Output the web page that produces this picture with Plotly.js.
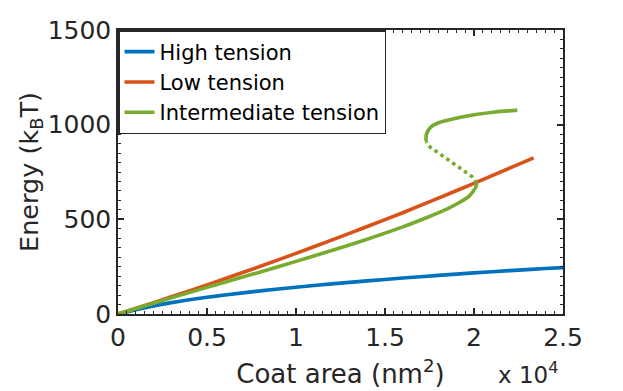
<!DOCTYPE html>
<html>
<head>
<meta charset="utf-8">
<script src="https://cdn.plot.ly/plotly-3.0.1.min.js"></script>
<style>
  html, body { margin: 0; padding: 0; background: #fff; }
  #graph { width: 623px; height: 391px; }
</style>
</head>
<body>
<div id="graph"></div>
<script>
// *********************************************************************************************
// DATA

const HIGH_X = [0, 1000, 2000, 3000, 4000, 5000, 6000, 8000, 10000, 12000, 14000, 16000, 18000, 20000, 22000, 24000, 25000];
const HIGH_Y = [0, 23, 43, 60, 75, 88, 100, 122, 141, 159, 175, 190, 204, 217, 229, 240, 245];

const LOW_X = [0, 2000, 4000, 6000, 8000, 10000, 12000, 14000, 16000, 18000, 20000, 22000, 23350];
const LOW_Y = [0, 60, 122, 186, 252, 320, 390, 462, 535, 612, 690, 770, 825];

// intermediate tension: stable lower branch, unstable (dotted) branch, stable upper branch
const MID_LOW_X = [0, 2000, 4000, 6000, 8000, 10000, 12000, 14000, 16000, 17500, 18500, 19200, 19700, 19950, 20100, 20150];
const MID_LOW_Y = [0, 57, 113, 168, 222, 278, 335, 395, 460, 515, 555, 590, 620, 648, 670, 690];

const MID_UNSTABLE_X = [20150, 19900, 18700, 17550, 17300];
const MID_UNSTABLE_Y = [690, 725, 805, 880, 912];

const MID_UP_X = [17300, 17330, 17550, 18000, 18800, 20000, 21200, 22430];
const MID_UP_Y = [912, 950, 985, 1010, 1030, 1052, 1067, 1077];

const X_TICKS = [0, 5000, 10000, 15000, 20000, 25000];
const X_TICK_TEXT = ['0', '0.5', '1', '1.5', '2', '2.5'];
const Y_TICKS = [0, 500, 1000, 1500];

const BLUE = '#0072BD';
const RED = '#D95319';
const GREEN = '#77AC30';
const AXIS = '#262626';
const FONT = 'DejaVu Sans, Liberation Sans, Arial, sans-serif';

// *********************************************************************************************
// TRACES

const LW = 3.6;

let data = [
    { name: 'High tension', type: 'scatter', mode: 'lines', x: HIGH_X, y: HIGH_Y,
      line: { color: BLUE, width: LW, shape: 'spline', smoothing: 0.6 } },
    { name: 'Low tension', type: 'scatter', mode: 'lines', x: LOW_X, y: LOW_Y,
      line: { color: RED, width: LW, shape: 'spline', smoothing: 0.6 } },
    { name: 'Intermediate tension', type: 'scatter', mode: 'lines', x: MID_LOW_X, y: MID_LOW_Y,
      line: { color: GREEN, width: LW, shape: 'spline', smoothing: 0.6 }, legendgroup: 'mid' },
    { name: 'Intermediate tension', type: 'scatter', mode: 'lines', x: MID_UNSTABLE_X, y: MID_UNSTABLE_Y,
      line: { color: GREEN, width: LW, dash: 'dot' }, legendgroup: 'mid', showlegend: false },
    { name: 'Intermediate tension', type: 'scatter', mode: 'lines', x: MID_UP_X, y: MID_UP_Y,
      line: { color: GREEN, width: LW, shape: 'spline', smoothing: 0.6 }, legendgroup: 'mid', showlegend: false }
];

// *********************************************************************************************
// LAYOUT

const axisCommon = {
    showline: true, linecolor: AXIS, linewidth: 1.5, mirror: 'ticks',
    ticks: 'inside', ticklen: 6, tickwidth: 1.5, tickcolor: AXIS,
    showgrid: false, zeroline: false,
    tickfont: { family: FONT, size: 25, color: AXIS }
};

let layout = {
    width: 623, height: 391,
    margin: { t: 30, r: 60, b: 77, l: 118 },
    paper_bgcolor: '#fff', plot_bgcolor: '#fff',
    font: { family: FONT, color: AXIS },
    showlegend: true,
    legend: {
        x: 0, y: 1, xanchor: 'left', yanchor: 'top',
        bgcolor: '#fff', bordercolor: AXIS, borderwidth: 1.5,
        font: { family: FONT, size: 21, color: '#000' },
        itemwidth: 30, tracegroupgap: 0
    },
    xaxis: Object.assign({}, axisCommon, {
        range: [0, 25000],
        tickvals: X_TICKS, ticktext: X_TICK_TEXT,
        minor: { dtick: 500, ticklen: 3, tickwidth: 1.2, tickcolor: AXIS, ticks: 'inside' },
        title: { text: 'Coat area (nm<sup>2</sup>)', font: { family: FONT, size: 26, color: AXIS }, standoff: 14 }
    }),
    yaxis: Object.assign({}, axisCommon, {
        range: [0, 1500],
        tickvals: Y_TICKS,
        minor: { dtick: 50, ticklen: 3, tickwidth: 1.2, tickcolor: AXIS, ticks: 'inside' },
        title: { text: 'Energy (k<sub>B</sub>T)', font: { family: FONT, size: 25.5, color: AXIS }, standoff: 2 }
    }),
    annotations: [{
        text: 'x 10<sup>4</sup>', xref: 'paper', yref: 'paper', x: 0.921, y: 0, yshift: -59,
        xanchor: 'center', yanchor: 'middle', showarrow: false,
        font: { family: FONT, size: 23, color: AXIS }
    }]
};

// *********************************************************************************************
// CONFIG

const config = { displaylogo: false, displayModeBar: false, responsive: false };

Plotly.newPlot('graph', data, layout, config);
</script>
</body>
</html>
